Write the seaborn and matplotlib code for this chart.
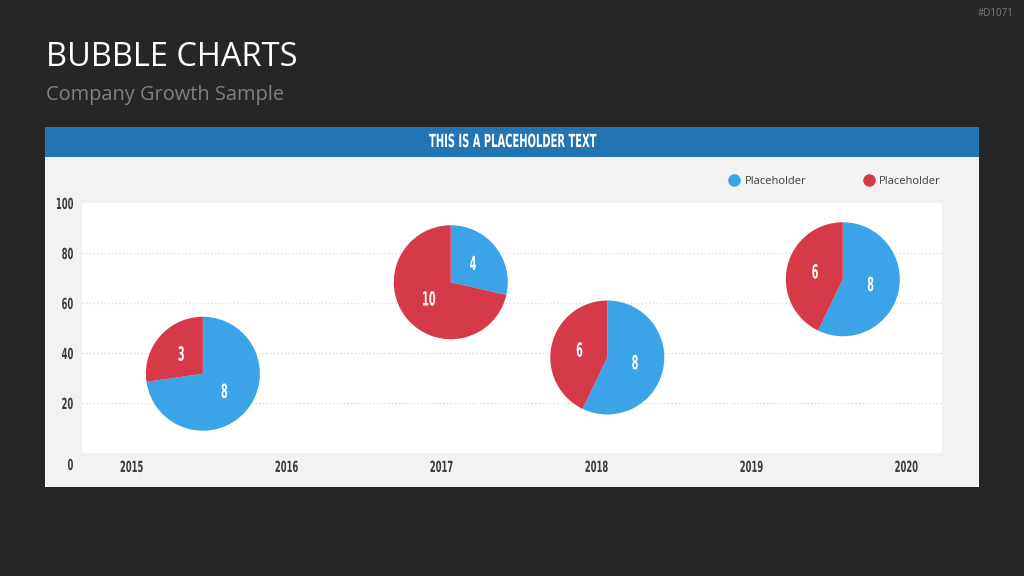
import matplotlib
matplotlib.use('Agg')
import matplotlib.pyplot as plt
import matplotlib.transforms as mtransforms
from matplotlib.patches import Rectangle
from matplotlib.lines import Line2D
from matplotlib.patheffects import AbstractPathEffect
import seaborn as sns

# 데이터
years = [2015, 2016, 2017, 2018, 2019, 2020]
y_ticks = [0, 20, 40, 60, 80, 100]
bubble_x = [2015.46, 2017.06, 2018.07, 2019.59]
bubble_y = [31.7, 68.3, 38.2, 69.5]
blue_vals = [8, 4, 8, 8]
red_vals = [3, 10, 6, 6]
series_names = ['Placeholder', 'Placeholder']

BG = '#262626'
PANEL = '#f2f2f2'
HEADER = '#2274b4'
BLUE = '#3ba3e8'
RED = '#d63a49'


# 좁은 글꼴이 없어서 글자를 가로로 눌러 그림
class Squeeze(AbstractPathEffect):
    def __init__(self, sx, anchor='center'):
        super().__init__()
        self.sx = sx
        self.anchor = anchor

    def draw_path(self, renderer, gc, tpath, affine, rgbFace=None):
        ext = tpath.get_extents()
        if self.anchor == 'right':
            c = ext.x1
        elif self.anchor == 'left':
            c = ext.x0
        else:
            c = (ext.x0 + ext.x1) / 2
        aff = mtransforms.Affine2D().translate(-c, 0).scale(self.sx, 1).translate(c, 0) + affine
        renderer.draw_path(gc, tpath, aff, rgbFace)


sns.set_theme(style='white')
plt.rcParams['font.family'] = ['Open Sans', 'DejaVu Sans']

fig = plt.figure(figsize=(10.24, 5.76), dpi=100, facecolor=BG)
W, H = 1024, 576

# 패널 배경 + 헤더
fig.add_artist(Rectangle((45 / W, 1 - 487 / H), 934 / W, 360 / H, transform=fig.transFigure,
                         facecolor=PANEL, edgecolor='none', zorder=-2))
fig.add_artist(Rectangle((45 / W, 1 - 157 / H), 934 / W, 30 / H, transform=fig.transFigure,
                         facecolor=HEADER, edgecolor='none', zorder=-1))
fig.text(512 / W, 1 - 142 / H, 'THIS IS A PLACEHOLDER TEXT', color='white', ha='center', va='center',
         fontsize=13, fontweight='bold', family='DejaVu Sans', path_effects=[Squeeze(0.55)])

# 제목
fig.text(46 / W, 1 - 57 / H, 'BUBBLE CHARTS', color='white', fontsize=23.5, va='center', ha='left')
fig.text(46 / W, 1 - 95 / H, 'Company Growth Sample', color='#808080', fontsize=14.4, va='center', ha='left')
fig.text(1014 / W, 1 - 13 / H, '#D1071', color='#7a7a7a', fontsize=7, va='center', ha='right')

ax = fig.add_axes([82 / W, 1 - 453 / H, 860 / W, 250 / H])
ax.set_facecolor('white')
ax.set_xlim(2014.68, 2020.23)
ax.set_ylim(0, 100)
ax.set_xticks(years)
ax.set_yticks(y_ticks)
ax.set_xticklabels([str(y) for y in years], family='DejaVu Sans', fontweight='bold', fontsize=11,
                   color='#3a3a3a')
ax.set_yticklabels([str(v) for v in y_ticks], family='DejaVu Sans', fontweight='bold', fontsize=11,
                   color='#3a3a3a')
for t in ax.get_xticklabels():
    t.set_path_effects([Squeeze(0.55)])
for t in ax.get_yticklabels():
    t.set_path_effects([Squeeze(0.55, 'right')])
ax.tick_params(axis='x', pad=5, length=0)
ax.tick_params(axis='y', pad=6, length=0)
ax.grid(axis='y', color='#dcdcdc', linestyle=':', linewidth=1)
gl = ax.yaxis.get_gridlines()
gl[0].set_visible(False)
gl[-1].set_visible(False)
sns.despine(ax=ax, left=True, bottom=True)
# 0 라벨은 아래로 조금
lab0 = ax.get_yticklabels()[0]
lab0.set_transform(lab0.get_transform() + mtransforms.ScaledTranslation(0, -0.11, fig.dpi_scale_trans))

# 버블(파이)
R = 57  # px
fig.canvas.draw()
to_fig = fig.transFigure.inverted()
for bx, by, b, r in zip(bubble_x, bubble_y, blue_vals, red_vals):
    cx, cy = ax.transData.transform((bx, by))
    (x0, y0) = to_fig.transform((cx - R, cy - R))
    (x1, y1) = to_fig.transform((cx + R, cy + R))
    pax = fig.add_axes([x0, y0, x1 - x0, y1 - y0])
    wedges, texts = pax.pie([b, r], colors=[BLUE, RED], startangle=90, counterclock=False,
                            labels=[str(b), str(r)], labeldistance=0.5,
                            wedgeprops=dict(linewidth=0))
    for t in texts:
        t.set_color('white')
        t.set_fontsize(14)
        t.set_fontweight('bold')
        t.set_family('DejaVu Sans')
        t.set_ha('center')
        t.set_va('center')
        t.set_path_effects([Squeeze(0.5)])
    pax.set_xlim(-1, 1)
    pax.set_ylim(-1, 1)
    pax.set_aspect('equal')
    pax.axis('off')

handles = [Line2D([], [], marker='o', ls='', markersize=8, color=c) for c in [BLUE, RED]]
fig.legend(handles, series_names, ncol=2, loc='center right', bbox_to_anchor=(951 / W, 1 - 181 / H),
           frameon=False, fontsize=8, handlelength=1, handletextpad=0.4, columnspacing=5.2,
           labelcolor='#404040')

fig.savefig('out.png', dpi=100, facecolor=BG)
